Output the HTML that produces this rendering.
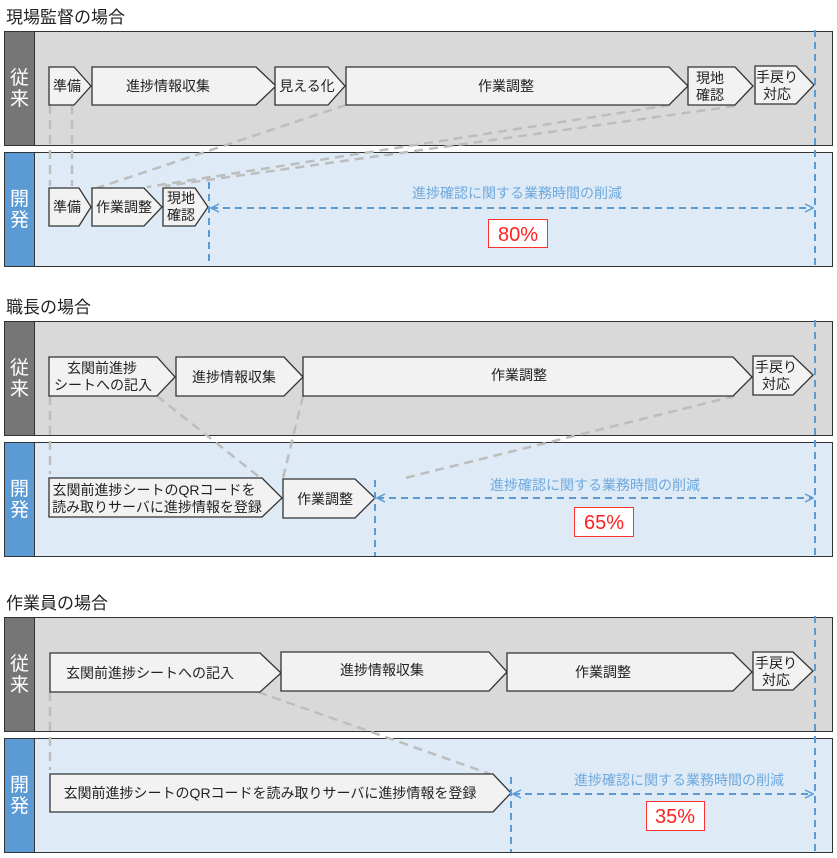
<!DOCTYPE html>
<html><head><meta charset="utf-8"><style>
body{margin:0;background:#fff;}
svg{display:block;font-family:"Liberation Sans","Noto Sans CJK JP",sans-serif;}
.ch{fill:#f2f2f2;stroke:#333;stroke-width:1.3;}
.t{font-size:14px;fill:#222;text-anchor:middle;}
.g{stroke:#bdbdbd;stroke-width:2.5;stroke-dasharray:9,6;fill:none;}
.b{stroke:#5b9bd5;stroke-width:2;stroke-dasharray:7,5;fill:none;}
.bl{font-size:14px;fill:#6fa8dc;text-anchor:middle;}
.lab{font-size:19px;fill:#fff;text-anchor:middle;}
.ti{font-size:17px;fill:#222;}
.pc{font-size:20px;fill:#ff2020;text-anchor:middle;}
</style></head><body>
<svg width="837" height="858" viewBox="0 0 837 858">
<defs>
<marker id="ar" markerWidth="10" markerHeight="10" refX="9" refY="5" orient="auto" markerUnits="userSpaceOnUse"><path d="M1,1 L9,5 L1,9" fill="none" stroke="#5b9bd5" stroke-width="1.5"/></marker>
<marker id="al" markerWidth="10" markerHeight="10" refX="1" refY="5" orient="auto" markerUnits="userSpaceOnUse"><path d="M9,1 L1,5 L9,9" fill="none" stroke="#5b9bd5" stroke-width="1.5"/></marker>
</defs>

<!-- ===== Section 1 ===== -->
<text class="ti" x="6" y="23">現場監督の場合</text>
<rect x="4.5" y="31.5" width="828" height="114" fill="#d9d9d9" stroke="#333"/>
<rect x="4.5" y="31.5" width="30" height="114" fill="#767676" stroke="#333"/>
<text class="lab" x="19.5" y="84">従</text><text class="lab" x="19.5" y="105">来</text>
<rect x="4.5" y="152.5" width="828" height="114" fill="#deebf7" stroke="#333"/>
<rect x="4.5" y="152.5" width="30" height="114" fill="#5b9bd5" stroke="#333"/>
<text class="lab" x="19.5" y="205">開</text><text class="lab" x="19.5" y="226">発</text>

<path class="g" d="M50,105 L50,186 M72,105 L72,186 M346,105 L97,188 M670,105 L147,187 M735,106 L165,186"/>

<polygon class="ch" points="49,67 74,67 91,86 74,105 49,105"/><text class="t" x="67" y="91">準備</text>
<polygon class="ch" points="92,67 256,67 276,86 256,105 92,105"/><text class="t" x="168" y="91">進捗情報収集</text>
<polygon class="ch" points="275,67 328,67 345,86 328,105 275,105"/><text class="t" x="307" y="91">見える化</text>
<polygon class="ch" points="346,67 669,67 688,86 669,105 346,105"/><text class="t" x="506" y="91">作業調整</text>
<polygon class="ch" points="688,67 735,67 753,86 735,105 688,105"/><text class="t" x="710" y="83">現地</text><text class="t" x="710" y="100">確認</text>
<polygon class="ch" points="755,66 796,66 814,85 796,104 755,104"/><text class="t" x="777" y="82">手戻り</text><text class="t" x="777" y="99">対応</text>

<polygon class="ch" points="49,188 79,188 91,207 79,226 49,226"/><text class="t" x="67" y="212">準備</text>
<polygon class="ch" points="92,188 144,188 162,207 144,226 92,226"/><text class="t" x="124" y="212">作業調整</text>
<polygon class="ch" points="163,188 195,188 208,207 195,226 163,226"/><text class="t" x="181" y="203">現地</text><text class="t" x="181" y="220">確認</text>

<path class="b" d="M209,182 L209,266"/>
<path class="b" d="M211,208 L813,208" marker-start="url(#al)" marker-end="url(#ar)"/>
<text class="bl" x="517" y="198">進捗確認に関する業務時間の削減</text>
<rect x="488.5" y="219.5" width="59" height="28" fill="#fff" stroke="#ff3030"/>
<text class="pc" x="518" y="241">80%</text>

<!-- ===== Section 2 ===== -->
<text class="ti" x="6" y="313">職長の場合</text>
<rect x="4.5" y="321.5" width="828" height="114" fill="#d9d9d9" stroke="#333"/>
<rect x="4.5" y="321.5" width="30" height="114" fill="#767676" stroke="#333"/>
<text class="lab" x="19.5" y="374">従</text><text class="lab" x="19.5" y="395">来</text>
<rect x="4.5" y="442.5" width="828" height="114" fill="#deebf7" stroke="#333"/>
<rect x="4.5" y="442.5" width="30" height="114" fill="#5b9bd5" stroke="#333"/>
<text class="lab" x="19.5" y="495">開</text><text class="lab" x="19.5" y="516">発</text>

<path class="g" d="M50,396 L50,474 M157,396 L258,476 M303,396 L283,478 M735,396 L405,478"/>

<polygon class="ch" points="49,357 157,357 175,377 157,396 49,396"/><text class="t" x="102" y="373">玄関前進捗</text><text class="t" x="103" y="390">シートへの記入</text>
<polygon class="ch" points="176,357 284,357 303,377 284,396 176,396"/><text class="t" x="234" y="382">進捗情報収集</text>
<polygon class="ch" points="303,357 733,357 752,377 733,396 303,396"/><text class="t" x="519" y="380">作業調整</text>
<polygon class="ch" points="753,356 793,356 813,375 793,395 753,395"/><text class="t" x="776" y="372">手戻り</text><text class="t" x="776" y="389">対応</text>

<polygon class="ch" points="49,478 262,478 282,498 262,517 49,517"/><text class="t" x="154" y="495">玄関前進捗シートのQRコードを</text><text class="t" x="157" y="512">読み取りサーバに進捗情報を登録</text>
<polygon class="ch" points="283,479 355,479 375,498 355,518 283,518"/><text class="t" x="325" y="504">作業調整</text>

<path class="b" d="M375,480 L375,556"/>
<path class="b" d="M377,498 L813,498" marker-start="url(#al)" marker-end="url(#ar)"/>
<text class="bl" x="595" y="490">進捗確認に関する業務時間の削減</text>
<rect x="574.5" y="507.5" width="59" height="29" fill="#fff" stroke="#ff3030"/>
<text class="pc" x="604" y="529">65%</text>

<!-- ===== Section 3 ===== -->
<text class="ti" x="6" y="609">作業員の場合</text>
<rect x="4.5" y="617.5" width="828" height="114" fill="#d9d9d9" stroke="#333"/>
<rect x="4.5" y="617.5" width="30" height="114" fill="#767676" stroke="#333"/>
<text class="lab" x="19.5" y="670">従</text><text class="lab" x="19.5" y="691">来</text>
<rect x="4.5" y="738.5" width="828" height="114" fill="#deebf7" stroke="#333"/>
<rect x="4.5" y="738.5" width="30" height="114" fill="#5b9bd5" stroke="#333"/>
<text class="lab" x="19.5" y="791">開</text><text class="lab" x="19.5" y="812">発</text>

<path class="g" d="M50,692 L50,770 M258,692 L490,774"/>

<polygon class="ch" points="50,653 260,653 281,673 260,692 50,692"/><text class="t" x="150" y="678">玄関前進捗シートへの記入</text>
<polygon class="ch" points="281,652 489,652 507,672 489,691 281,691"/><text class="t" x="382" y="675">進捗情報収集</text>
<polygon class="ch" points="507,653 733,653 752,672 733,691 507,691"/><text class="t" x="603" y="677">作業調整</text>
<polygon class="ch" points="753,652 793,652 813,671 793,690 753,690"/><text class="t" x="776" y="668">手戻り</text><text class="t" x="776" y="685">対応</text>

<polygon class="ch" points="50,774 493,774 511,793 493,812 50,812"/><text class="t" x="270" y="798">玄関前進捗シートのQRコードを読み取りサーバに進捗情報を登録</text>

<path class="b" d="M511,777 L511,852"/>
<path class="b" d="M513,794 L813,794" marker-start="url(#al)" marker-end="url(#ar)"/>
<text class="bl" x="679" y="785">進捗確認に関する業務時間の削減</text>
<rect x="646.5" y="801.5" width="58" height="29" fill="#fff" stroke="#ff3030"/>
<text class="pc" x="675" y="823">35%</text>

<!-- long vertical blue dashed lines -->
<path class="b" d="M815,30 L815,268 M815,320 L815,558 M815,616 L815,853"/>
</svg>
</body></html>
